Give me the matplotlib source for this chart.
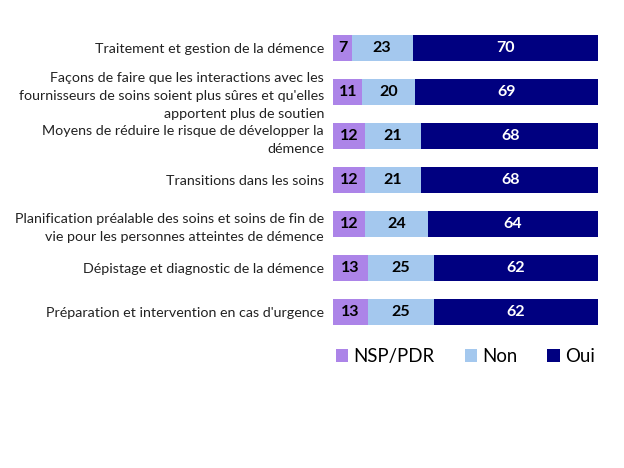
import matplotlib.pyplot as plt
import numpy as np

categories = [
    "Traitement et gestion de la démence",
    "Façons de faire que les interactions avec les\nfournisseurs de soins soient plus sûres et qu'elles\napportent plus de soutien",
    "Moyens de réduire le risque de développer la\ndémence",
    "Transitions dans les soins",
    "Planification préalable des soins et soins de fin de\nvie pour les personnes atteintes de démence",
    "Dépistage et diagnostic de la démence",
    "Préparation et intervention en cas d'urgence",
]
nsp = [7, 11, 12, 12, 12, 13, 13]
non = [23, 20, 21, 21, 24, 25, 25]
oui = [70, 69, 68, 68, 64, 62, 62]

series = [("NSP/PDR", nsp, "#AC84E8", "black"),
          ("Non", non, "#A4C8EE", "black"),
          ("Oui", oui, "#000080", "white")]

plt.rcParams['font.family'] = ['Lato', 'DejaVu Sans']

fig = plt.figure(figsize=(6.5, 4.875), dpi=96)
ax = fig.add_axes([0.534, 0.286, 0.424, 0.658])

y = np.arange(len(categories))
left = np.zeros(len(categories))
for name, vals, color, tcolor in series:
    vals = np.array(vals)
    ax.barh(y, vals, left=left, height=0.6, color=color, label=name)
    for yi, l, v in zip(y, left, vals):
        ax.text(l + v / 2, yi, str(v), ha='center', va='center',
                color=tcolor, fontsize=12, fontweight='bold')
    left += vals

ax.set_xlim(0, 100)
ax.set_ylim(len(categories) - 0.5, -0.5)
ax.set_yticks(y)
ax.set_yticklabels(categories, fontsize=10.7, color='#222222', linespacing=1.6)
ax.tick_params(axis='y', length=0, pad=7)
ax.set_xticks([])
for s in ax.spines.values():
    s.set_visible(False)

ax.legend(loc='upper center', bbox_to_anchor=(0.5, 0.01), ncol=3, frameon=False,
          fontsize=14, handlelength=0.65, handleheight=0.65, handletextpad=0.3,
          columnspacing=1.6)

fig.savefig('out.png', dpi=96)
